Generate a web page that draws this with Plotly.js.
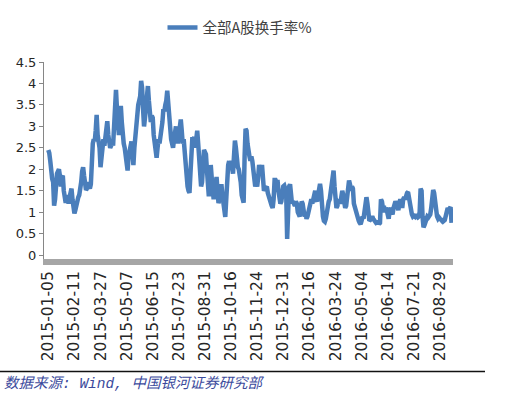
<!DOCTYPE html>
<html>
<head>
<meta charset="utf-8">
<script src="https://cdn.plot.ly/plotly-3.0.1.min.js"></script>
<style>html,body{margin:0;padding:0;background:#fff;}#chart{width:526px;height:403px;}</style>
</head>
<body>
<div id="chart"></div>
<script>
// Daily turnover rate of all A shares (%), trading days 2015-01-05 .. 2016-09
const turnover = [
2.45,2.38,2.2,1.85,1.78,1.7,1.15,1.3,1.75,1.9,
1.95,2.0,1.85,1.6,1.82,1.85,1.5,1.25,1.22,1.4,
1.3,1.2,1.35,1.5,1.55,1.3,1.0,0.97,1.05,1.2,
1.3,1.35,1.4,1.5,1.7,1.95,2.05,1.85,1.6,1.52,
1.55,1.7,1.6,1.55,1.65,2.3,2.6,2.7,2.65,2.9,
3.27,2.8,2.6,2.5,2.05,2.4,2.6,2.7,2.55,2.75,
2.9,3.12,2.8,2.6,2.5,2.55,2.7,2.55,3.2,3.6,
3.85,3.4,2.9,2.8,3.2,3.48,3.1,2.75,2.6,2.5,
2.3,2.1,1.97,2.3,2.45,2.6,2.65,2.4,2.1,2.5,
2.8,3.1,3.38,3.5,3.6,3.7,4.06,3.9,3.4,3.0,
3.2,3.5,3.7,3.94,3.6,3.3,3.1,3.25,3.2,2.8,
2.6,2.5,2.27,2.5,2.7,2.6,2.75,2.8,3.1,3.4,
3.35,3.5,3.6,3.83,3.5,3.2,2.9,2.7,2.6,2.5,
2.7,2.95,3.0,2.8,2.6,2.8,3.0,3.16,2.9,2.6,
2.7,2.4,1.9,1.8,1.6,1.5,1.45,1.9,2.4,2.75,
2.7,2.75,2.5,2.8,2.9,2.6,2.3,1.9,1.6,1.7,
2.2,2.45,2.4,2.35,2.0,1.7,1.37,1.7,2.1,1.8,
1.5,1.3,1.5,1.7,1.82,1.5,1.21,1.3,1.5,1.65,
1.4,1.15,0.95,0.89,1.3,1.8,2.1,2.19,2.0,2.2,
2.1,1.9,2.3,2.67,2.5,2.1,2.05,2.0,1.9,1.7,
1.4,1.25,1.22,2.3,2.94,2.9,2.6,2.35,2.3,2.2,
2.3,2.19,1.9,1.7,1.6,1.7,1.6,1.8,2.1,2.0,
1.9,2.1,1.7,1.5,1.55,1.6,1.6,1.45,1.35,1.3,
1.2,1.15,1.1,1.3,1.75,1.75,1.7,1.75,1.5,1.3,
1.2,1.25,1.5,1.6,1.62,1.55,1.45,0.38,1.2,1.6,
1.65,1.3,1.2,1.25,1.2,1.15,1.25,1.2,1.0,0.95,
0.9,1.1,1.25,1.2,1.0,0.9,0.95,0.85,0.9,1.0,
1.2,1.25,1.3,1.2,1.3,1.35,1.5,1.3,1.25,1.4,
1.6,1.66,1.5,1.1,0.9,0.8,0.78,0.85,1.0,1.2,
1.25,1.3,1.5,1.7,1.9,1.97,1.6,1.2,1.1,1.15,
1.3,1.25,1.2,1.35,1.5,1.4,1.2,1.1,1.15,1.3,
1.5,1.74,1.65,1.5,1.6,1.55,1.2,1.1,1.0,0.95,
0.85,0.8,0.75,0.72,0.8,0.9,0.85,1.0,1.27,1.35,
1.2,0.85,0.8,0.82,0.85,0.9,0.85,0.8,0.78,0.75,
0.76,0.8,0.72,0.75,1.3,1.25,1.1,1.15,1.0,1.1,
1.05,0.9,0.85,1.05,1.1,1.0,0.95,1.1,1.15,1.25,
1.2,1.1,1.05,1.2,1.3,1.25,1.1,1.3,1.35,1.3,
1.4,1.45,1.47,1.3,1.1,1.0,0.95,0.9,0.92,0.9,
0.95,0.9,0.88,0.9,1.0,1.55,1.5,0.9,0.65,0.7,
0.8,0.85,0.9,0.88,0.9,0.95,1.1,1.3,1.52,1.45,
1.2,1.0,0.9,0.85,0.88,0.85,0.82,0.8,0.85,0.8,
0.82,0.9,0.95,1.1,1.05,1.1,1.12,0.75
];

// date labels shown every 27 trading days
const tickLabels = [
'2015-01-05','2015-02-11','2015-03-27','2015-05-07','2015-06-15','2015-07-23',
'2015-08-31','2015-10-16','2015-11-24','2015-12-31','2016-02-16','2016-03-24',
'2016-05-04','2016-06-14','2016-07-21','2016-08-29'
];
const tickStep = 27;
const yTicks = [0,0.5,1,1.5,2,2.5,3,3.5,4,4.5];
const seriesName = '全部A股换手率%';
const sourceText = '数据来源: Wind, 中国银河证券研究部';

const dayIndex = turnover.map((_, i) => i);
const tickPos = tickLabels.map((_, i) => i * tickStep);

const W = 526, H = 403;
const M = {l: 44, r: 73, t: 53, b: 144};
const pw = W - M.l - M.r, ph = H - M.t - M.b;
const px = v => (v - M.l) / pw;
const py = v => (H - M.b - v) / ph;

const trace = {
  x: dayIndex, y: turnover, type: 'scatter', mode: 'lines', name: seriesName,
  line: {color: '#4A7EBB', width: 4.5}
};

const layout = {
  width: W, height: H, margin: M,
  paper_bgcolor: '#fff', plot_bgcolor: '#fff',
  showlegend: true,
  legend: {orientation: 'h', x: px(240), xanchor: 'center', y: py(17), yanchor: 'middle',
           font: {family: 'Noto Sans CJK SC', size: 14.5, color: '#404040'}, bgcolor: 'rgba(0,0,0,0)'},
  xaxis: {
    range: [-4.45, 418.5], tickmode: 'array', tickvals: tickPos, ticktext: tickLabels,
    tickangle: -90, ticks: '', showgrid: false, zeroline: false,
    showline: true, linecolor: '#A6A6A6', linewidth: 6,
    tickfont: {family: 'DejaVu Sans', size: 15.5, color: '#262626'}
  },
  yaxis: {
    range: [-0.09, 4.5], tickmode: 'array', tickvals: yTicks, ticktext: yTicks.map(String),
    ticks: 'outside', ticklen: 4, tickcolor: '#868686', showgrid: false, zeroline: false,
    showline: true, linecolor: '#868686', linewidth: 1,
    tickfont: {family: 'DejaVu Sans', size: 13, color: '#262626'}
  },
  shapes: [{type: 'line', xref: 'paper', yref: 'paper', x0: px(0), x1: px(485), y0: py(376.7), y1: py(376.7),
            line: {color: '#111', width: 1.5}}],
  annotations: [{xref: 'paper', yref: 'paper', x: px(2), y: py(389), xanchor: 'left', yanchor: 'middle',
                 text: sourceText, showarrow: false,
                 font: {family: "'Liberation Mono', 'Noto Sans CJK SC'", size: 14.5, color: '#3B4A9C', style: 'italic'}}]
};

Plotly.newPlot('chart', [trace], layout, {displayModeBar: false, staticPlot: true});
</script>
</body>
</html>
